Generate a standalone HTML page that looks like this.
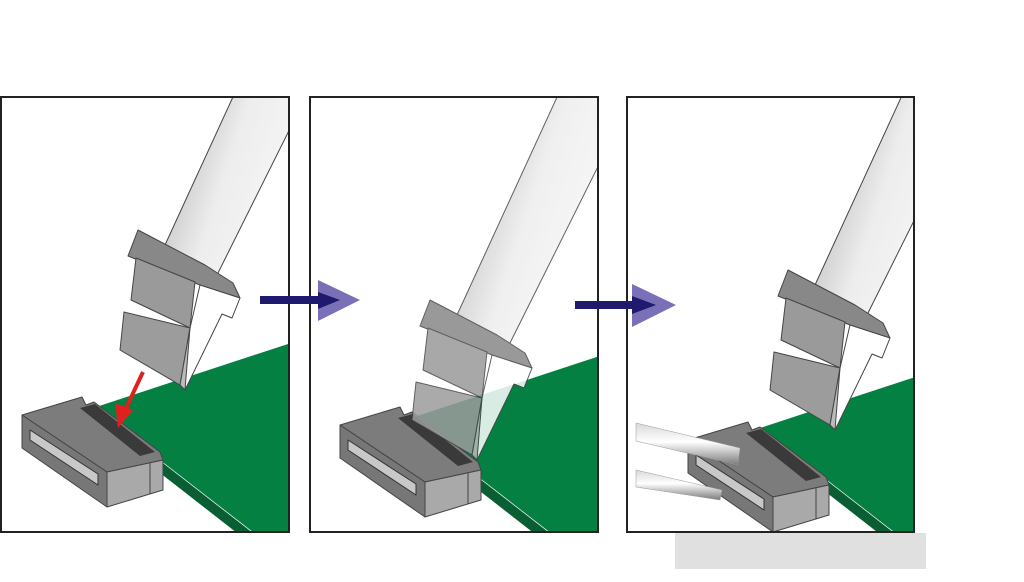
<!DOCTYPE html>
<html><head><meta charset="utf-8"><style>html,body{margin:0;padding:0;background:#fff;}svg{display:block}</style></head><body>
<svg width="1024" height="582" viewBox="0 0 1024 582" xmlns="http://www.w3.org/2000/svg">
<defs>
<linearGradient id="tube" x1="0" y1="0" x2="1" y2="0.5">
<stop offset="0" stop-color="#8a8a8a"/><stop offset="0.5" stop-color="#ededed"/><stop offset="1" stop-color="#ffffff"/>
</linearGradient>
<linearGradient id="tw" x1="0" y1="0" x2="0" y2="1">
<stop offset="0" stop-color="#d8d8d8"/><stop offset="0.45" stop-color="#ffffff"/><stop offset="1" stop-color="#7a7a7a"/>
</linearGradient>
<clipPath id="c1"><rect x="2" y="98" width="286" height="433"/></clipPath>
<clipPath id="c2"><rect x="311" y="98" width="286" height="433"/></clipPath>
<clipPath id="c3"><rect x="628" y="98" width="285" height="433"/></clipPath>
<g id="board">
<polygon points="93,408 300,340 300,560 289,560" fill="#058043"/>
<polygon points="150,453 262,540 246,540 146,462" fill="#0a5e33"/>
</g>
<g id="conn" stroke="#444" stroke-width="1" stroke-linejoin="round">
<polygon points="22,415 82,397 86,405 94,402 160,452 163,460 107,472" fill="#7c7c7c"/>
<polygon points="80,408 95,404 155,452 140,456" fill="#3a3a3a" stroke="none"/>
<polygon points="22,415 107,472 107,507 22,448" fill="#777"/>
<polygon points="30,430 98,474 98,485 30,440" fill="#c8c8c8" stroke="#333"/>
<polygon points="107,472 163,460 163,490 107,507" fill="#a9a9a9"/>
<line x1="150" y1="463" x2="150" y2="494"/>
</g>
<g id="tool" stroke="#444" stroke-width="1" stroke-linejoin="round">
<polygon points="305,-60 384,-60 217,275 165,245" fill="url(#tube)"/>
<polygon points="138,230 128,256 200,285 240,298 233,283 205,265" fill="#888"/>
<polygon points="200,285 240,298 232,318 222,314 185,390 180,385 190,328" fill="#fff"/>
<polygon points="136,258 195,282 190,328 131,300" fill="#9a9a9a"/>
<polygon points="124,312 190,328 180,385 120,350" fill="#9c9c9c"/>
<polygon points="180,385 190,328 185,390" fill="#bbb"/>
</g>
</defs>
<rect x="1" y="97" width="288" height="435" fill="#fff" stroke="#222" stroke-width="2"/>
<rect x="310" y="97" width="288" height="435" fill="#fff" stroke="#222" stroke-width="2"/>
<rect x="627" y="97" width="287" height="435" fill="#fff" stroke="#222" stroke-width="2"/>
<rect x="675" y="533" width="251" height="36" fill="#e0e0e0"/>
<g clip-path="url(#c1)">
<use href="#board"/>
<use href="#conn"/>
<use href="#tool"/>
<line x1="143" y1="372" x2="126" y2="408" stroke="#e02020" stroke-width="4"/>
<polygon points="115,403 133,410 118,428" fill="#e02020"/>
</g>
<g clip-path="url(#c2)">
<use href="#board" transform="translate(312,12)"/>
<use href="#conn" transform="translate(318,10)"/>
<use href="#tool" transform="translate(292,70)" opacity="0.85"/>
</g>
<g clip-path="url(#c3)">
<use href="#board" transform="translate(667,20)"/>
<use href="#conn" transform="translate(666,25)"/>
<use href="#tool" transform="translate(650,40)"/>
<polygon points="636,423 740,448 738,465 636,441" fill="url(#tw)" stroke="#999" stroke-width="0.5"/>
<polygon points="636,470 722,490 720,500 636,487" fill="url(#tw)" stroke="#999" stroke-width="0.5"/>
</g>
<rect x="260" y="296" width="60" height="8" fill="#1f1a6e"/>
<polygon points="318,280 360,300 318,321" fill="#7a70b8"/>
<polygon points="318,292 340,300 318,309" fill="#1f1a6e"/>
<rect x="575" y="301" width="60" height="8" fill="#1f1a6e"/>
<polygon points="632,284 676,305 632,327" fill="#7a70b8"/>
<polygon points="632,296 656,305 632,314" fill="#1f1a6e"/>
</svg>
</body></html>
